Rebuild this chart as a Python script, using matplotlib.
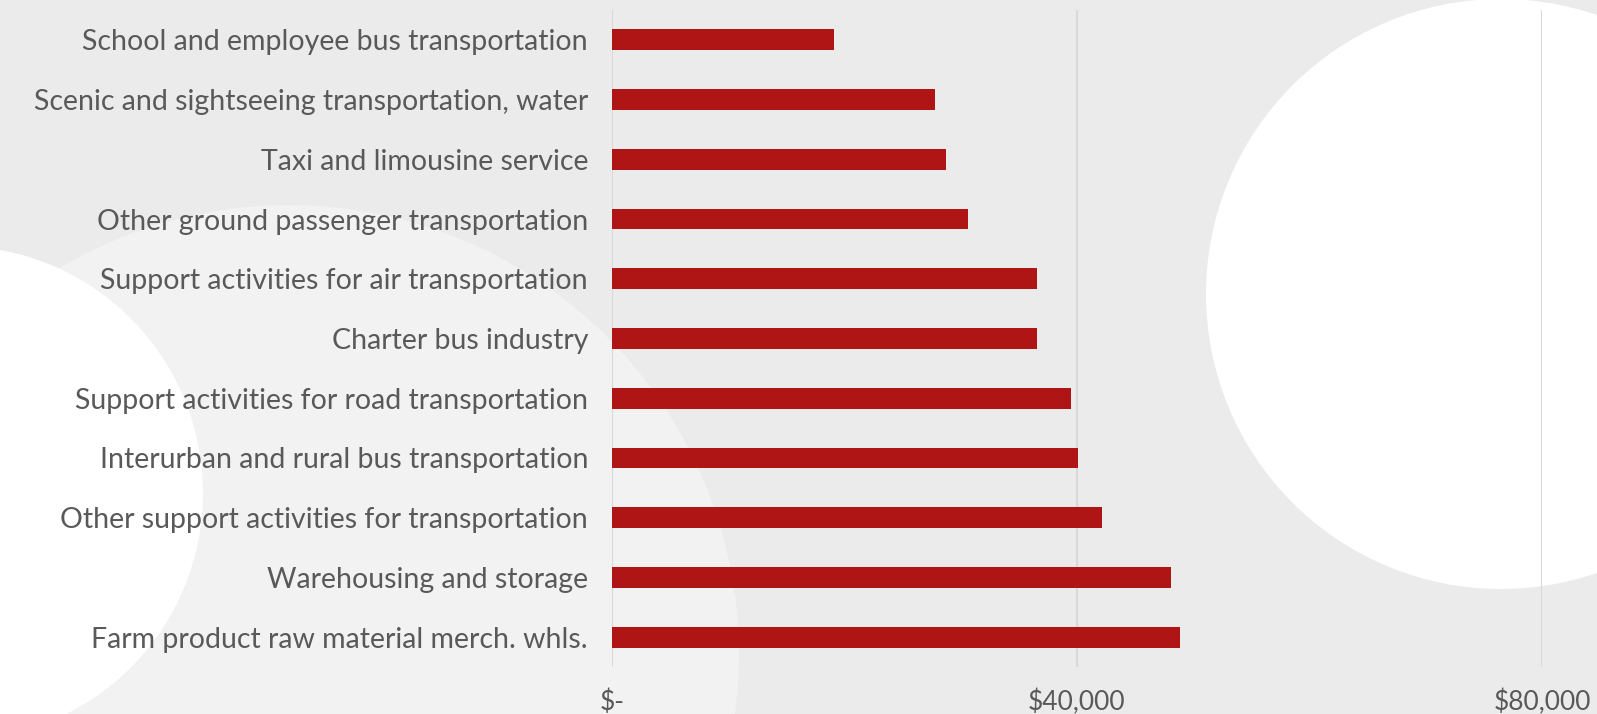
import matplotlib
matplotlib.use("Agg")
import matplotlib.pyplot as plt
from matplotlib.patches import Circle, Rectangle
from matplotlib.ticker import FuncFormatter

categories = [
    "School and employee bus transportation",
    "Scenic and sightseeing transportation, water",
    "Taxi and limousine service",
    "Other ground passenger transportation",
    "Support activities for air transportation",
    "Charter bus industry",
    "Support activities for road transportation",
    "Interurban and rural bus transportation",
    "Other support activities for transportation",
    "Warehousing and storage",
    "Farm product raw material merch. whls.",
]
values = [19150, 27770, 28750, 30660, 36540, 36570, 39520, 40090, 42130, 48130, 48870]
xticks = [0, 40000, 80000]

W, H = 1597, 714
fig = plt.figure(figsize=(W / 100, H / 100), dpi=100)
fig.patch.set_facecolor("#ebebeb")

# decorative background
bg = fig.add_axes([0, 0, 1, 1], zorder=0)
bg.set_xlim(0, W)
bg.set_ylim(H, 0)
bg.axis("off")
bg.add_patch(Rectangle((0, 0), W, H, color="#ebebeb", lw=0))
bg.add_patch(Circle((289, 655), 450, color="#f2f2f2", lw=0))
bg.add_patch(Circle((-44, 493), 247, color="#ffffff", lw=0))
bg.add_patch(Circle((1501, 294), 295, color="#ffffff", lw=0))

ax = fig.add_axes([611.7 / W, 1 - 667 / H, (1542 - 611.7) / W, (667 - 10) / H], zorder=1)
ax.set_facecolor("none")
y = list(range(len(categories)))
ax.barh(y, values, height=0.35, color="#b01516", zorder=3)
ax.set_ylim(len(categories) - 0.5, -0.5)
ax.set_xlim(0, 80000)
ax.set_yticks(y)
ax.set_yticklabels(categories)
ax.set_xticks(xticks)
ax.xaxis.set_major_formatter(FuncFormatter(lambda v, p: "$-" if v == 0 else f"${v:,.0f}"))
for s in ax.spines.values():
    s.set_visible(False)
ax.grid(axis="x", color="#d9d9d9", lw=1.5, zorder=1)
ax.set_axisbelow(True)
ax.tick_params(axis="both", length=0, colors="#595959")
ax.tick_params(axis="y", pad=17, labelsize=20.5)
ax.tick_params(axis="x", pad=16, labelsize=19)
for t in ax.get_xticklabels() + ax.get_yticklabels():
    t.set_fontfamily("Lato")

fig.savefig("out.png", dpi=100, facecolor=fig.get_facecolor())
